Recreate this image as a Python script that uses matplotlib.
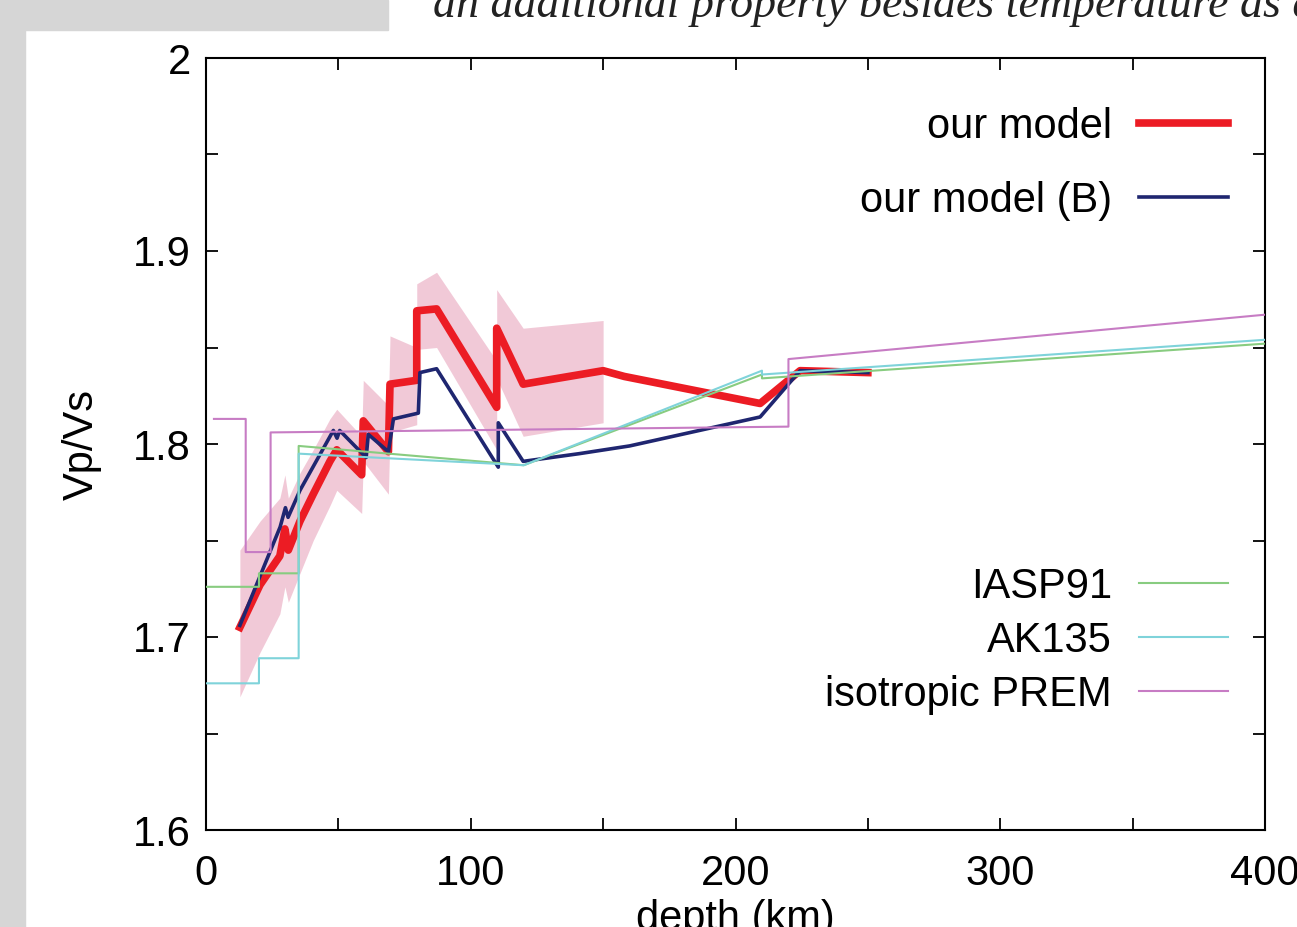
import matplotlib
matplotlib.use("Agg")
import matplotlib.pyplot as plt
from matplotlib.patches import Rectangle
from matplotlib.ticker import MultipleLocator, FormatStrFormatter

plt.rcParams['font.family'] = ['Liberation Sans', 'DejaVu Sans']

# our model (thick red) and its uncertainty band
red_x = [12.8, 20.4, 27.9, 29.8, 31.1, 35.5, 40.5, 46.8, 49.4, 58.8, 59.4, 68.9,
         69.5, 79.6, 79.6, 87.1, 109.8, 109.8, 119.8, 150, 158, 209.3, 224.4, 250]
red_y = [1.705, 1.727, 1.742, 1.756, 1.745, 1.760, 1.774, 1.791, 1.797, 1.784, 1.812, 1.796,
         1.831, 1.833, 1.869, 1.870, 1.819, 1.860, 1.831, 1.838, 1.835, 1.821, 1.838, 1.837]

band_x = [12.8, 20.4, 27.9, 29.8, 31.1, 35.5, 40.5, 46.8, 49.4, 58.8, 59.4, 68.9,
          69.5, 79.6, 79.6, 87.1, 109.8, 109.8, 119.8, 150]
band_lo = [1.669, 1.692, 1.712, 1.726, 1.718, 1.733, 1.750, 1.768, 1.776, 1.764, 1.791, 1.774,
           1.806, 1.810, 1.849, 1.850, 1.797, 1.834, 1.804, 1.811]
band_hi = [1.745, 1.760, 1.772, 1.784, 1.772, 1.785, 1.797, 1.813, 1.818, 1.804, 1.833, 1.820,
           1.856, 1.850, 1.883, 1.889, 1.843, 1.880, 1.860, 1.864]

# our model (B)
blue_x = [12.8, 28, 30, 31, 35.5, 48.1, 49.5, 50.5, 60.5, 61.3, 68.9, 70.8, 80.2, 80.8,
          87.1, 110.4, 110.4, 119.8, 141, 160, 209.3, 224.4, 250]
blue_y = [1.706, 1.757, 1.767, 1.762, 1.776, 1.807, 1.803, 1.807, 1.793, 1.805, 1.796, 1.813,
          1.816, 1.837, 1.839, 1.788, 1.811, 1.791, 1.795, 1.799, 1.814, 1.838, 1.837]

# reference models
iasp_x = [0, 20, 20, 35, 35, 120, 210, 210, 400]
iasp_y = [1.726, 1.726, 1.733, 1.733, 1.799, 1.789, 1.836, 1.834, 1.852]

ak_x = [0, 20, 20, 35, 35, 120, 210, 210, 400]
ak_y = [1.676, 1.676, 1.689, 1.689, 1.795, 1.789, 1.838, 1.836, 1.854]

prem_x = [3, 15, 15, 24.4, 24.4, 220, 220, 400]
prem_y = [1.813, 1.813, 1.744, 1.744, 1.806, 1.809, 1.844, 1.867]

W, H = 1297, 927
fig = plt.figure(figsize=(W / 100, H / 100), dpi=100)
fig.patches.append(Rectangle((0, 0), 25 / W, 1, transform=fig.transFigure,
                             color='#d6d6d6', zorder=0))
fig.patches.append(Rectangle((0, 1 - 30 / H), 388 / W, 30 / H, transform=fig.transFigure,
                             color='#d6d6d6', zorder=0))
fig.text(433 / W, 1 - 17 / H, 'an additional property besides temperature as a',
         family=['Liberation Serif', 'DejaVu Serif'], style='italic', fontsize=33,
         va='baseline', ha='left', color='#222222')

ax = fig.add_axes([206 / W, 1 - 830 / H, (1265 - 206) / W, (830 - 58) / H])

ax.fill_between(band_x, band_lo, band_hi, color='#d9668f', alpha=0.35, linewidth=0, zorder=1)
l1, = ax.plot(red_x, red_y, color='#ec1c24', lw=5.5, zorder=3, label='our model')
l2, = ax.plot(blue_x, blue_y, color='#1f2670', lw=2.6, zorder=4, label='our model (B)')
l3, = ax.plot(iasp_x, iasp_y, color='#88cc80', lw=1.5, zorder=5, label='IASP91')
l4, = ax.plot(ak_x, ak_y, color='#7fd3da', lw=1.5, zorder=5, label='AK135')
l5, = ax.plot(prem_x, prem_y, color='#c77cc4', lw=1.5, zorder=5, label='isotropic PREM')

ax.set_xlim(0, 400)
ax.set_ylim(1.6, 2.0)
ax.xaxis.set_major_locator(MultipleLocator(100))
ax.xaxis.set_minor_locator(MultipleLocator(50))
ax.yaxis.set_major_locator(MultipleLocator(0.1))
ax.yaxis.set_minor_locator(MultipleLocator(0.05))
ax.yaxis.set_major_formatter(FormatStrFormatter('%g'))
ax.tick_params(which='both', direction='in', top=True, right=True, length=8.5, width=1.3,
               labelsize=30)
ax.tick_params(axis='x', pad=17)
ax.tick_params(axis='y', pad=11)
for s in ax.spines.values():
    s.set_linewidth(1.5)

ax.set_xlabel('depth (km)', fontsize=30, labelpad=4)
ax.set_ylabel('Vp/Vs', fontsize=30, labelpad=22)

leg1 = ax.legend(handles=[l1, l2], loc='upper right', bbox_to_anchor=(0.965, 0.937),
                 frameon=False, markerfirst=False, fontsize=30, handlelength=2.13,
                 handletextpad=0.65, borderpad=0, borderaxespad=0, labelspacing=0.82)
ax.add_artist(leg1)
ax.legend(handles=[l3, l4, l5], loc='lower right', bbox_to_anchor=(0.965, 0.149),
          frameon=False, markerfirst=False, fontsize=30, handlelength=2.13,
          handletextpad=0.65, borderpad=0, borderaxespad=0, labelspacing=0.34)

fig.savefig('out.png', dpi=100)
